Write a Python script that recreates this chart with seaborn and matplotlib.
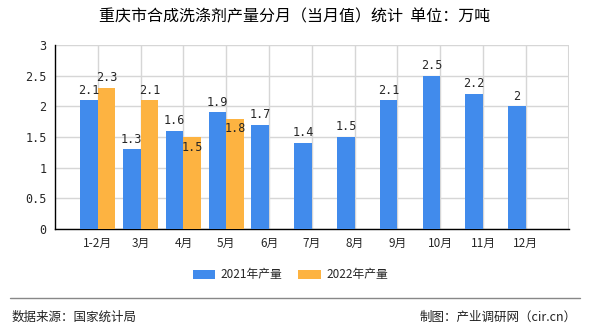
import matplotlib
matplotlib.use("Agg")
import matplotlib.pyplot as plt
import seaborn as sns
import pandas as pd
import numpy as np
from matplotlib.patches import Patch
from matplotlib.lines import Line2D

months = ["1-2月", "3月", "4月", "5月", "6月", "7月", "8月", "9月", "10月", "11月", "12月"]
prod_2021 = [2.1, 1.3, 1.6, 1.9, 1.7, 1.4, 1.5, 2.1, 2.5, 2.2, 2.0]
prod_2022 = [2.3, 2.1, 1.5, 1.8, None, None, None, None, None, None, None]
series_names = ["2021年产量", "2022年产量"]
yticks = [0, 0.5, 1, 1.5, 2, 2.5, 3]
ytick_labels = ["0", "0.5", "1", "1.5", "2", "2.5", "3"]
title = "重庆市合成洗涤剂产量分月（当月值）统计  单位：万吨"
source = "数据来源：国家统计局"
credit = "制图：产业调研网（cir.cn）"

sns.set_style("white")
plt.rcParams['font.family'] = ['Noto Sans CJK SC', 'DejaVu Sans']

rows = []
for m, a, b in zip(months, prod_2021, prod_2022):
    rows.append({"month": m, "series": series_names[0], "value": a})
    rows.append({"month": m, "series": series_names[1], "value": np.nan if b is None else b})
df = pd.DataFrame(rows)

fig = plt.figure(figsize=(5.9, 3.3), dpi=100)
ax = fig.add_axes([0.0932, 0.306, 0.8706, 0.5576])

colors = ["#418BEC", "#FDB341"]
sns.barplot(data=df, x="month", y="value", hue="series", order=months,
            hue_order=series_names, palette=colors, width=0.82, gap=0,
            saturation=1, ax=ax, legend=False, zorder=3, linewidth=0, edgecolor='none')

ax.set_xlim(-1, 11)
ax.set_ylim(0, 3)
ax.set_xlabel("")
ax.set_ylabel("")

mono = ['DejaVu Sans Mono', 'Noto Sans CJK SC']
ax.set_yticks(yticks)
ax.set_yticklabels(ytick_labels, family=mono, fontsize=8.5)
ax.set_xticks(range(len(months)))
ax.set_xticklabels(months, fontsize=8.5, family=['Noto Sans CJK SC', 'DejaVu Sans'])
ax.set_xticks([-1, 11], minor=True)
ax.tick_params(axis='both', which='both', direction='out', length=4, width=1, color='black', pad=2)

ax.grid(True, axis='both', which='major', color='#d6d6d6', linewidth=1, zorder=0)
ax.set_axisbelow(True)
ax.axvline(11, color='#d6d6d6', linewidth=1.5, zorder=0)
for s in ["top", "right"]:
    ax.spines[s].set_visible(False)
for s in ["left", "bottom"]:
    ax.spines[s].set_color('black')
    ax.spines[s].set_linewidth(1)

# value labels
c2021, c2022 = ax.containers[0], ax.containers[1]
for i, p in enumerate(c2021.patches):
    v = prod_2021[i]
    ax.text(p.get_x() + p.get_width() / 2, v + 0.06, f"{v:g}", ha='center', va='bottom',
            fontsize=8.5, family=mono, zorder=5)
for i, p in enumerate(c2022.patches):
    v = prod_2022[i] if i < len(prod_2022) else None
    if v is None:
        continue
    inside = v < prod_2021[i]
    y = v - 0.06 if inside else v + 0.06
    ax.text(p.get_x() + p.get_width() / 2, y, f"{v:g}", ha='center',
            va='top' if inside else 'bottom', fontsize=8.5, family=mono, zorder=5)

fig.text(0.5, 0.948, title, ha='center', va='center', fontsize=11.5, color='black')

handles = [Patch(facecolor=c, edgecolor='none') for c in colors]
fig.legend(handles, series_names, loc='center', bbox_to_anchor=(0.492, 0.167), ncol=2,
           frameon=False, fontsize=8.5, handlelength=1.9, handleheight=0.75,
           columnspacing=1.35, handletextpad=0.45)

ly = 1 - 298 / 330
fig.add_artist(Line2D([0.017, 0.983], [ly, ly], transform=fig.transFigure,
                      color='#888888', linewidth=1))
fig.text(0.02, 1 - 317 / 330, source, ha='left', va='center', fontsize=9, color='#222222')
fig.text(0.978, 1 - 317 / 330, credit, ha='right', va='center', fontsize=9, color='#222222')

fig.savefig("out.png", dpi=100)
